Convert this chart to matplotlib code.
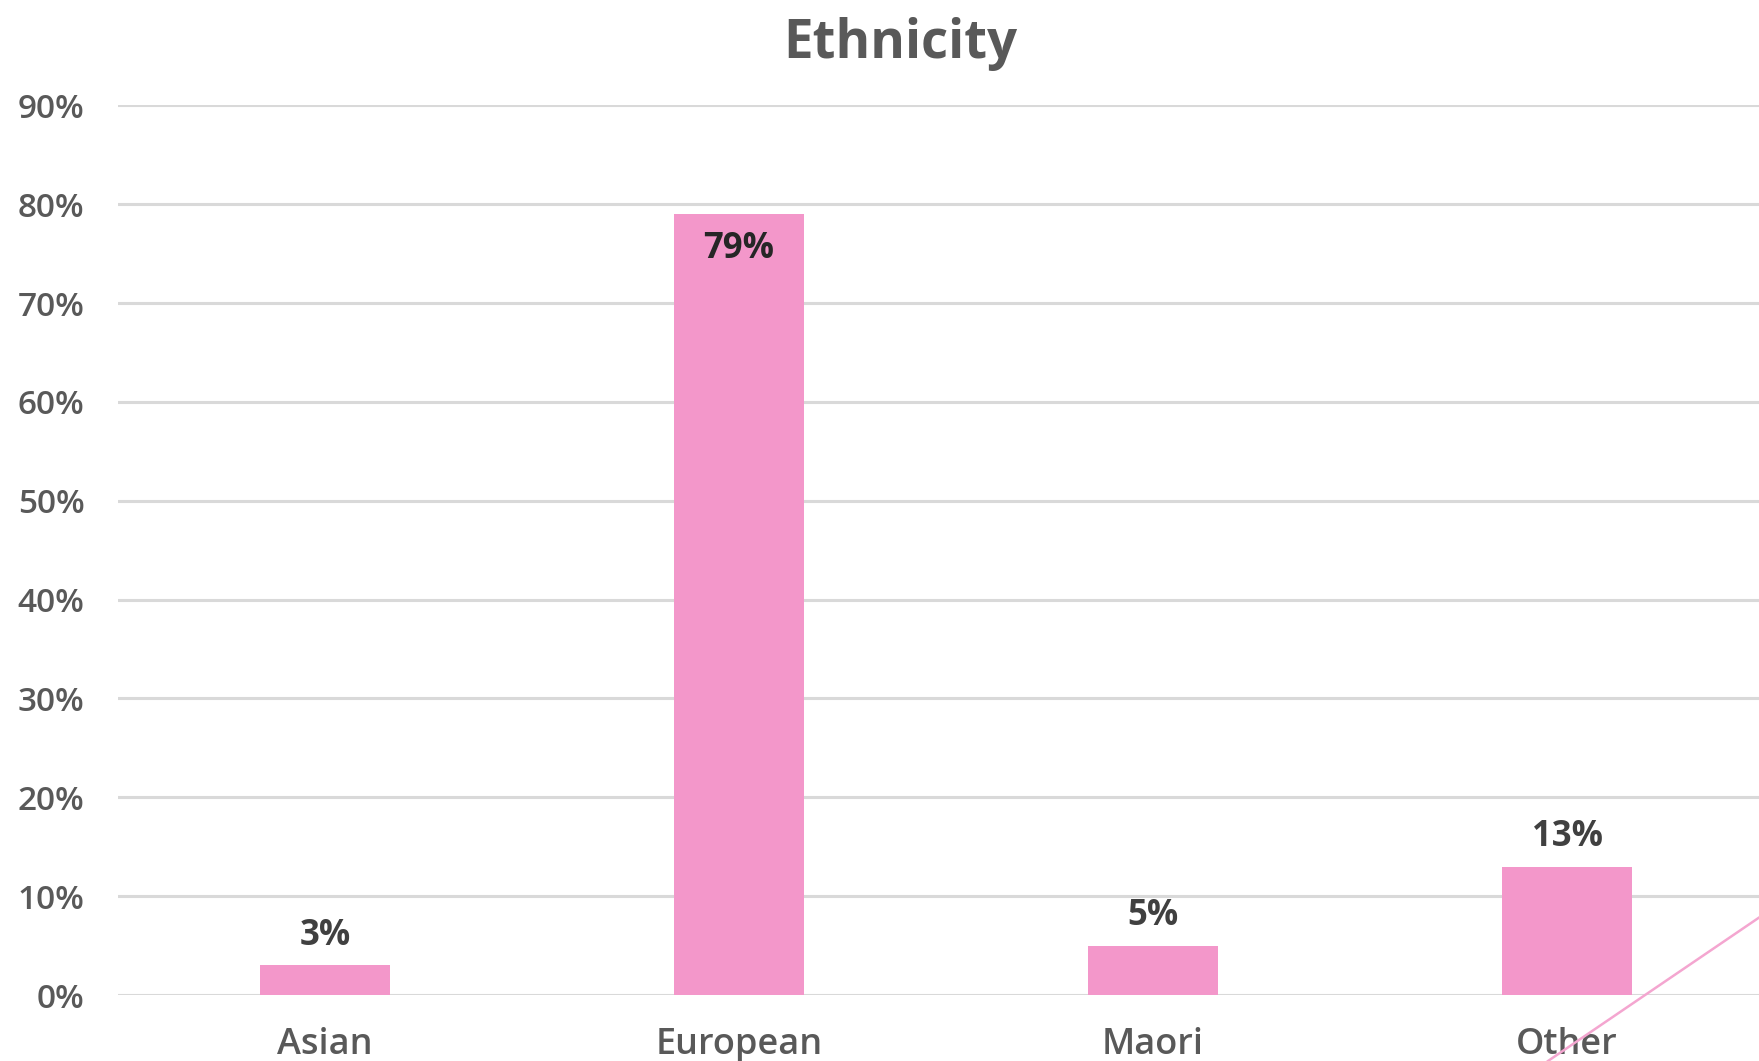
import matplotlib.pyplot as plt
from matplotlib.lines import Line2D
from matplotlib.ticker import PercentFormatter

# Ethnicity breakdown (share of respondents)
categorias = ['Asian', 'European', 'Maori', 'Other']
valores = [0.03, 0.79, 0.05, 0.13]
rotulos = ['3%', '79%', '5%', '13%']

cor_barra = '#F397CA'
cor_texto = '#595959'
cor_rotulo = '#404040'
cor_grade = '#D9D9D9'

plt.rcParams['font.family'] = ['Open Sans', 'DejaVu Sans']

fig = plt.figure(figsize=(17.59, 10.61), dpi=100)
# plot area runs a little past the right edge of the figure
ax = fig.add_axes([0.0671, 0.0622, 0.9415, 0.8384])

x = range(len(categorias))
barras = ax.bar(x, valores, width=0.314, color=cor_barra, zorder=3)

ax.set_xlim(-0.5, 3.5)
ax.set_ylim(0, 0.9)
ax.set_yticks([i / 10 for i in range(10)])
ax.yaxis.set_major_formatter(PercentFormatter(1.0, decimals=0))
ax.set_xticks(list(x))
ax.set_xticklabels(categorias)

ax.grid(axis='y', color=cor_grade, linewidth=2.2, zorder=0)
for lado in ax.spines.values():
    lado.set_visible(False)
ax.tick_params(axis='both', length=0, colors=cor_texto)
ax.tick_params(axis='y', pad=24, labelsize=24)
ax.tick_params(axis='x', pad=23, labelsize=26)
for rotulo in ax.get_xticklabels() + ax.get_yticklabels():
    rotulo.set_fontweight('semibold')

# data labels: outside the bar, except the tallest which goes inside
for barra, valor, texto in zip(barras, valores, rotulos):
    cx = barra.get_x() + barra.get_width() / 2
    if valor > 0.5:
        ax.annotate(texto, (cx, valor), xytext=(0, -12), textcoords='offset points',
                    ha='center', va='top', fontsize=25, fontweight='bold',
                    color='#262626', zorder=4)
    else:
        ax.annotate(texto, (cx, valor), xytext=(0, 8), textcoords='offset points',
                    ha='center', va='bottom', fontsize=25, fontweight='bold',
                    color=cor_rotulo, zorder=4)

fig.text(0.512, 0.945, 'Ethnicity', ha='center', va='baseline',
         fontsize=38, fontweight='bold', color=cor_texto)

# thin pink stroke in the lower right corner
fig.add_artist(Line2D([1548 / 1759, 1.0], [0.0, 1 - 917.6 / 1061],
                      transform=fig.transFigure, color='#F4A6D0', linewidth=1.8))

plt.savefig('out.png', dpi=100)
plt.close()
